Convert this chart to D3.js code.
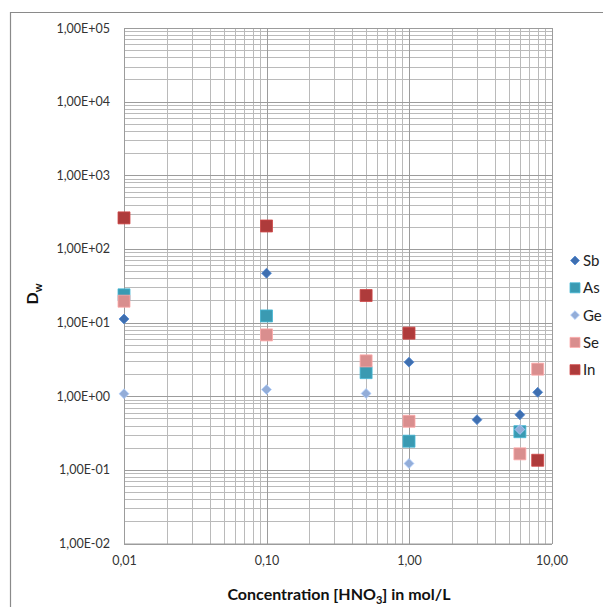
<!DOCTYPE html>
<html>
<head>
<meta charset="utf-8">
<script src="https://cdn.jsdelivr.net/npm/d3@7"></script>
<style>
  html, body { margin: 0; padding: 0; background: #fff; }
  svg { display: block; font-family: Lato, "Open Sans", sans-serif; }
</style>
</head>
<body>
<svg id="chart" width="603" height="607"></svg>
<script>
// HNO3 concentration (mol/L) and distribution ratio Dw per element
const sbConc = [0.01, 0.1, 1, 3, 6, 8];
const sbDw   = [11.2, 46.8, 2.9, 0.48, 0.56, 1.13];
const asConc = [0.01, 0.1, 0.5, 1, 6];
const asDw   = [23.8, 12.3, 2.09, 0.245, 0.33];
const geConc = [0.01, 0.1, 0.5, 1, 6];
const geDw   = [1.08, 1.23, 1.09, 0.122, 0.353];
const seConc = [0.01, 0.1, 0.5, 1, 6, 8];
const seDw   = [19.5, 6.8, 3.02, 0.457, 0.165, 2.33];
const inConc = [0.01, 0.1, 0.5, 1, 8];
const inDw   = [264, 205, 23.3, 7.18, 0.135];

const seriesNames = ["Sb", "As", "Ge", "Se", "In"];
const xTickValues = [0.01, 0.1, 1, 10];
const xTickLabels = ["0,01", "0,10", "1,00", "10,00"];
const yTickValues = [1e-2, 1e-1, 1e0, 1e1, 1e2, 1e3, 1e4, 1e5];
const yTickLabels = ["1,00E-02", "1,00E-01", "1,00E+00", "1,00E+01", "1,00E+02", "1,00E+03", "1,00E+04", "1,00E+05"];

const series = [
  { name: "Sb", conc: sbConc, dw: sbDw, shape: "diamond", color: "#3F6FB0" },
  { name: "As", conc: asConc, dw: asDw, shape: "square",  color: "#3A9AB2" },
  { name: "Ge", conc: geConc, dw: geDw, shape: "diamond", color: "#93ADD8" },
  { name: "Se", conc: seConc, dw: seDw, shape: "square",  color: "#D98E8E" },
  { name: "In", conc: inConc, dw: inDw, shape: "square",  color: "#AE3B3B" }
];

const svg = d3.select("#chart");
const plot = { left: 124, right: 551.5, top: 28, bottom: 543.5 };

const x = d3.scaleLog().domain([0.01, 10]).range([plot.left, plot.right]);
const y = d3.scaleLog().domain([0.01, 1e5]).range([plot.bottom, plot.top]);

// outer chart frame (top and left edges)
svg.append("path")
  .attr("d", "M10.5,607 V12.5 H603")
  .attr("fill", "none")
  .attr("stroke", "#8a8a8a")
  .attr("stroke-width", 1.2);

// gridlines: minor (2..9 per decade) and major (decades)
const minorX = [], minorY = [];
for (let e = -2; e < 1; e++) for (let m = 2; m <= 9; m++) minorX.push(m * Math.pow(10, e));
for (let e = -2; e < 5; e++) for (let m = 2; m <= 9; m++) minorY.push(m * Math.pow(10, e));

const grid = svg.append("g").attr("shape-rendering", "crispEdges");
grid.selectAll("line.mx").data(minorX).join("line")
  .attr("x1", d => Math.round(x(d)) + 0.5).attr("x2", d => Math.round(x(d)) + 0.5)
  .attr("y1", plot.top).attr("y2", plot.bottom)
  .attr("stroke", "#bababa").attr("stroke-width", 1);
grid.selectAll("line.my").data(minorY).join("line")
  .attr("y1", d => Math.round(y(d)) + 0.5).attr("y2", d => Math.round(y(d)) + 0.5)
  .attr("x1", plot.left).attr("x2", plot.right)
  .attr("stroke", "#bababa").attr("stroke-width", 1);
grid.selectAll("line.Mx").data(xTickValues).join("line")
  .attr("x1", d => Math.round(x(d)) + 0.5).attr("x2", d => Math.round(x(d)) + 0.5)
  .attr("y1", plot.top).attr("y2", plot.bottom)
  .attr("stroke", "#9c9c9c").attr("stroke-width", 1.2);
grid.selectAll("line.My").data(yTickValues).join("line")
  .attr("y1", d => Math.round(y(d)) + 0.5).attr("y2", d => Math.round(y(d)) + 0.5)
  .attr("x1", plot.left).attr("x2", plot.right)
  .attr("stroke", "#9c9c9c").attr("stroke-width", 1.2);

// axes with tick labels
const xAxis = d3.axisBottom(x).tickValues(xTickValues)
  .tickFormat((d, i) => xTickLabels[i]).tickSize(0).tickPadding(13);
const gx = svg.append("g").attr("transform", `translate(0,${plot.bottom})`).call(xAxis);
gx.select(".domain").attr("stroke", "#9c9c9c");
gx.selectAll("text").attr("font-size", 12.5).attr("fill", "#333").attr("font-family", "Lato, sans-serif");

const yAxis = d3.axisLeft(y).tickValues(yTickValues)
  .tickFormat((d, i) => yTickLabels[i]).tickSize(0).tickPadding(14);
const gy = svg.append("g").attr("transform", `translate(${plot.left},0)`).call(yAxis);
gy.select(".domain").attr("stroke", "#9c9c9c");
gy.selectAll("text").attr("font-size", 12.5).attr("fill", "#333").attr("font-family", "Lato, sans-serif");

// markers
function markerPath(shape) {
  return shape === "diamond"
    ? d3.symbol().type(d3.symbolDiamond2).size(62)()
    : d3.symbol().type(d3.symbolSquare).size(144)();
}

series.forEach(s => {
  svg.append("g").selectAll("path")
    .data(s.conc.map((c, i) => ({ c, v: s.dw[i] })))
    .join("path")
    .attr("d", markerPath(s.shape))
    .attr("transform", d => `translate(${x(d.c)},${y(d.v)})`)
    .attr("fill", s.color)
    .attr("stroke", d3.color(s.color).brighter(0.5))
    .attr("stroke-width", 0.8);
});

// legend
const legend = svg.append("g").attr("transform", "translate(575,260.5)");
series.forEach((s, i) => {
  const row = legend.append("g").attr("transform", `translate(0,${i * 27.3})`);
  row.append("path")
    .attr("d", s.shape === "diamond"
      ? d3.symbol().type(d3.symbolDiamond2).size(50)()
      : d3.symbol().type(d3.symbolSquare).size(100)())
    .attr("fill", s.color)
    .attr("stroke", d3.color(s.color).brighter(0.5))
    .attr("stroke-width", 0.8);
  row.append("text")
    .attr("x", 8).attr("y", 5.5)
    .attr("font-size", 15).attr("fill", "#222")
    .text(seriesNames[i]);
});

// axis titles
const xt = svg.append("text")
  .attr("x", 339).attr("y", 600)
  .attr("text-anchor", "middle")
  .attr("font-size", 16).attr("font-weight", "bold").attr("fill", "#111");
xt.append("tspan").text("Concentration [HNO");
xt.append("tspan").attr("font-size", 11).attr("dy", 4).text("3");
xt.append("tspan").attr("dy", -4).text("] in mol/L");

const yt = svg.append("text")
  .attr("transform", "translate(38,294) rotate(-90)")
  .attr("text-anchor", "middle")
  .attr("font-size", 16).attr("font-weight", "bold").attr("fill", "#111");
yt.append("tspan").text("D");
yt.append("tspan").attr("font-size", 11).attr("dy", 4).text("w");
</script>
</body>
</html>
